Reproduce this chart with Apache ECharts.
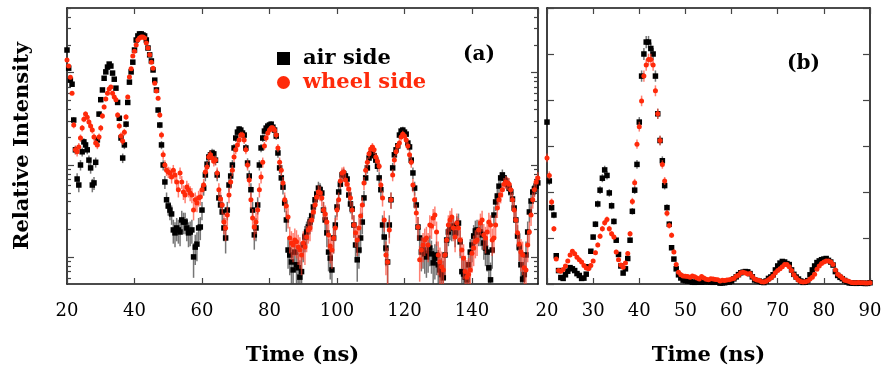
<!DOCTYPE html>
<html>
<head>
<meta charset="utf-8">
<script src="https://cdn.jsdelivr.net/npm/echarts@6/dist/echarts.min.js"></script>
<style>
  html, body { margin: 0; padding: 0; background: #fff; }
  #chart { width: 885px; height: 367px; }
</style>
</head>
<body>
<div id="chart"></div>
<script>
// Time bins: first bin centre and bin width (ns)
const T0 = 20.0;
const DT = 0.5;

// Relative intensity per 0.5 ns bin, 20.0 ns .. 159.5 ns
const airSide = [
  176,112,83,75,30.7,14.6,7.05,6.07,10.0,13.9,
  17.8,16.5,14.6,11.3,9.3,6.07,6.4,10.7,18.7,35.6,
  51,65,87,102,115,124,118,99,85,68,
  47.6,32.1,19.6,11.9,16.5,27.7,47.6,79,102,130,
  176,226,250,263,263,256,250,226,185,156,
  134,107,83,65,39.4,27.1,16.5,10.0,6.55,4.2,
  3.6,3.25,2.95,1.98,1.84,2.08,1.98,1.88,2.54,2.41,
  2.41,2.08,1.84,1.88,1.98,1.01,1.29,1.39,2.08,2.13,
  3.25,5.62,7.8,10.2,12.2,12.9,13.5,13.2,11.3,7.8,
  4.4,3.69,3.1,2.08,1.62,3.25,6.07,7.6,10.0,15.3,
  19.6,22.7,24.5,23.9,22.2,21.1,15.3,10.5,7.6,5.4,
  3.25,1.75,2.08,3.69,10.0,15.3,19.6,23.3,25.1,26.4,
  27.1,27.7,25.7,23.9,20.6,13.5,9.3,7.25,5.76,3.88,
  2.54,1.2,1.06,0.89,0.73,1.14,0.83,0.77,0.61,0.70,
  1.36,1.66,1.88,2.13,2.41,2.8,3.51,4.2,4.85,5.62,
  5.4,4.97,3.25,2.54,1.84,1.14,0.98,0.73,1.62,2.24,
  3.51,5.1,6.2,7.8,8.0,7.6,7.05,4.73,3.78,3.34,
  2.24,1.36,0.94,1.2,1.62,2.41,4.4,7.25,9.3,11.9,
  13.2,13.5,12.6,11.3,9.7,7.25,5.4,2.24,1.66,1.26,
  0.89,2.24,4.2,9.3,12.9,14.6,16.1,21.1,23.3,23.9,
  22.7,21.6,17.3,15.7,11.3,8.2,5.62,3.69,2.13,1.62,
  1.14,1.2,1.09,1.01,1.11,1.26,1.09,0.87,0.98,1.06,
  0.83,0.73,0.65,0.60,1.06,1.54,1.88,2.13,2.08,2.18,
  1.84,2.18,2.35,1.47,0.70,0.66,0.61,0.57,0.83,1.14,
  1.36,1.70,1.93,1.98,1.88,1.88,1.75,1.43,1.26,1.14,
  0.77,0.57,1.2,2.87,3.98,4.62,5.9,7.25,7.8,7.25,
  6.7,6.2,5.62,5.1,4.28,3.42,2.54,1.70,1.29,0.83,
  0.58,0.65,1.06,1.88,3.1,4.07,5.1,5.5,5.9,6.4
];

const wheelSide = [
  137,118,89,60,27.1,14.6,13.9,15.7,19.6,25.1,
  31.4,35.6,33,29.2,26.4,23.9,20.1,17.3,16.5,20.1,
  25.1,34,42.5,51.9,60,66.6,70,60,54.5,51,
  34.8,26.4,20.6,18.2,22.7,33.1,54.5,89.8,110,152,
  171,199,226,238,244,244,238,210,185,156,
  130,112,77,63.5,53,34.8,21.1,12.9,10.0,8.8,
  8.4,8.2,7.4,8.8,7.8,6.55,5.4,8.2,6.55,5.1,
  4.73,5.76,5.4,4.97,4.73,3.25,4.2,3.88,4.4,4.5,
  5.4,6.07,8.4,9.5,12.2,12.9,11.9,11.0,11.3,8.2,
  5.4,4.28,3.69,2.41,2.08,2.87,4.73,6.55,8.8,12.2,
  14.6,16.5,18.7,21.1,21.1,18.7,14.6,10.0,6.9,4.2,
  2.67,2.13,2.41,3.25,5.4,7.4,10.7,16.1,19.6,22.2,
  23.9,25.1,25.1,23.9,21.1,15.3,10.7,8.8,6.4,4.2,
  3.6,2.73,1.62,1.43,1.36,1.54,1.47,1.29,1.2,1.06,
  1.43,1.29,1.66,1.98,2.08,2.54,3.1,3.69,4.5,5.1,
  4.97,4.4,3.25,2.95,2.41,1.75,1.33,1.2,1.62,2.08,
  3.25,4.2,6.7,8.2,8.4,6.9,6.2,5.5,4.4,3.25,
  2.24,1.84,1.54,2.08,2.8,3.69,6.4,8.8,10.7,13.2,
  14.9,15.7,14.6,12.2,11.0,9.7,6.07,4.4,2.54,1.06,
  0.89,1.98,4.2,7.8,11.3,13.9,16.1,17.3,20.1,21.6,
  20.6,18.7,16.1,12.9,10.7,6.07,4.2,3.02,2.13,0.94,
  1.2,1.36,1.54,1.62,1.36,2.24,2.18,2.67,2.87,1.88,
  1.06,0.89,0.79,0.73,1.06,1.54,2.24,2.54,2.73,2.08,
  1.66,2.35,2.08,1.54,1.2,0.98,0.70,0.61,0.65,0.73,
  1.11,1.26,1.47,1.54,1.98,2.35,2.54,1.75,1.62,1.88,
  2.41,2.24,1.54,1.62,2.24,3.42,4.2,4.73,5.4,6.2,
  6.55,6.4,6.2,5.4,4.2,3.25,2.54,1.84,1.39,1.14,
  1.06,0.77,0.73,1.36,1.88,2.87,4.2,5.4,6.55,7.25
];

// Axis ranges and tick positions
const xRangeA = [20, 159.56];
const xRangeB = [20, 90];
const yRangeLog = [0.514, 502];
const yRangeLin = [0, 300];
const logMajorTicks = [1, 10, 100];
const logMinorTicks = [0.6, 0.7, 0.8, 0.9, 2, 3, 4, 5, 6, 7, 8, 9,
                       20, 30, 40, 50, 60, 70, 80, 90, 200, 300, 400, 500];

// Counting statistics: detected counts per unit of relative intensity
const COUNTS_PER_UNIT = 6;
const statErr = v => Math.sqrt(v * COUNTS_PER_UNIT) / COUNTS_PER_UNIT;

const BLACK = '#000000';
const RED = '#ff2a0a';
const SERIF = '"DejaVu Serif", "Liberation Serif", serif';

function points(values, tMax) {
  const out = [];
  values.forEach((v, i) => {
    const t = T0 + i * DT;
    if (t <= tMax + 1e-9) out.push([t, v, statErr(v)]);
  });
  return out;
}

function errorBars(values, tMax, xi, yi, yLimits, color, z) {
  return {
    type: 'custom',
    xAxisIndex: xi,
    yAxisIndex: yi,
    silent: true,
    z: z,
    data: points(values, tMax),
    renderItem(params, api) {
      const t = api.value(0), v = api.value(1), e = api.value(2);
      const lo = Math.max(v - e, yLimits[0]);
      const hi = Math.min(v + e, yLimits[1]);
      const p1 = api.coord([t, lo]);
      const p2 = api.coord([t, hi]);
      return {
        type: 'line',
        shape: { x1: p1[0], y1: p1[1], x2: p2[0], y2: p2[1] },
        style: { stroke: color, lineWidth: 1.5 }
      };
    }
  };
}

function markers(name, values, tMax, xi, yi, symbol, size, color, z) {
  return {
    type: 'scatter',
    name: name,
    xAxisIndex: xi,
    yAxisIndex: yi,
    symbol: symbol,
    symbolSize: size,
    itemStyle: { color: color, opacity: 1 },
    z: z,
    data: points(values, tMax).map(p => [p[0], p[1]])
  };
}

const frameLine = { show: true, onZero: false, lineStyle: { color: '#111', width: 1.6 } };
const tickStyle = { color: '#444', width: 1.2 };
const labelFont = { fontFamily: SERIF, fontSize: 18, color: '#000' };
const nameFont = { fontFamily: SERIF, fontSize: 21, fontWeight: 'bold', color: '#000' };

function xAxis(grid, range, interval, position, withLabels) {
  return {
    type: 'value', gridIndex: grid, position: position,
    min: range[0], max: range[1], interval: interval,
    axisLine: frameLine,
    axisTick: { show: true, inside: true, length: 6, lineStyle: tickStyle },
    axisLabel: withLabels
      ? Object.assign({ show: true, margin: 18, showMaxLabel: range[1] % interval === 0 }, labelFont)
      : { show: false },
    splitLine: { show: false },
    name: withLabels ? 'Time (ns)' : '',
    nameLocation: 'middle',
    nameGap: 61,
    nameTextStyle: nameFont
  };
}

function logAxis(position, tickValues, tickLen, showLine, extra) {
  return Object.assign({
    type: 'log', logBase: 10, gridIndex: 0, position: position,
    min: yRangeLog[0], max: yRangeLog[1],
    axisLine: showLine ? frameLine : { show: false },
    axisTick: { show: true, inside: true, length: tickLen, customValues: tickValues, lineStyle: tickStyle },
    axisLabel: { show: false },
    splitLine: { show: false }
  }, extra || {});
}

function linAxis(position) {
  return {
    type: 'value', gridIndex: 1, position: position,
    min: yRangeLin[0], max: yRangeLin[1], interval: 50,
    axisLine: frameLine,
    axisTick: { show: true, inside: true, length: 7, lineStyle: tickStyle },
    axisLabel: { show: false },
    splitLine: { show: false }
  };
}

const chart = echarts.init(document.getElementById('chart'), null, { renderer: 'canvas' });

chart.setOption({
  animation: false,
  backgroundColor: '#fff',
  grid: [
    { left: 67, top: 8, width: 471, height: 276, containLabel: false, outerBoundsMode: 'none' },
    { left: 547, top: 8, width: 323, height: 276, containLabel: false, outerBoundsMode: 'none' }
  ],
  xAxis: [
    xAxis(0, xRangeA, 20, 'bottom', true),
    xAxis(0, xRangeA, 20, 'top', false),
    xAxis(1, xRangeB, 10, 'bottom', true),
    xAxis(1, xRangeB, 10, 'top', false)
  ],
  yAxis: [
    logAxis('left', logMajorTicks, 7, true, {
      name: 'Relative Intensity', nameLocation: 'middle', nameGap: 34,
      nameTextStyle: nameFont
    }),
    logAxis('left', logMinorTicks, 4, false),
    logAxis('right', logMajorTicks, 7, true),
    logAxis('right', logMinorTicks, 4, false),
    linAxis('left'),
    linAxis('right')
  ],
  title: [
    { text: '(a)', left: 458, top: 40, textStyle: { fontFamily: SERIF, fontSize: 20, fontWeight: 'bold', color: '#000' } },
    { text: '(b)', left: 782, top: 49, textStyle: { fontFamily: SERIF, fontSize: 20, fontWeight: 'bold', color: '#000' } }
  ],
  legend: {
    orient: 'vertical', left: 272, top: 43,
    itemWidth: 13, itemHeight: 13, itemGap: 3,
    selectedMode: false,
    data: [
      { name: 'air side', icon: 'rect', textStyle: { color: BLACK } },
      { name: 'wheel side', icon: 'circle', textStyle: { color: RED } }
    ],
    textStyle: { fontFamily: SERIF, fontSize: 21, fontWeight: 'bold', padding: [0, 0, 0, 8] }
  },
  series: [
    errorBars(airSide, xRangeA[1], 0, 0, yRangeLog, 'rgba(60,60,60,0.7)', 2),
    markers('air side', airSide, xRangeA[1], 0, 0, 'rect', 5.5, BLACK, 3),
    errorBars(wheelSide, xRangeA[1], 0, 0, yRangeLog, 'rgba(255,60,40,0.65)', 4),
    markers('wheel side', wheelSide, xRangeA[1], 0, 0, 'circle', 5, RED, 5),
    errorBars(airSide, xRangeB[1], 2, 4, yRangeLin, 'rgba(60,60,60,0.7)', 2),
    markers('air side', airSide, xRangeB[1], 2, 4, 'rect', 5.5, BLACK, 3),
    errorBars(wheelSide, xRangeB[1], 2, 4, yRangeLin, 'rgba(255,60,40,0.65)', 4),
    markers('wheel side', wheelSide, xRangeB[1], 2, 4, 'circle', 5, RED, 5)
  ]
});
</script>
</body>
</html>
